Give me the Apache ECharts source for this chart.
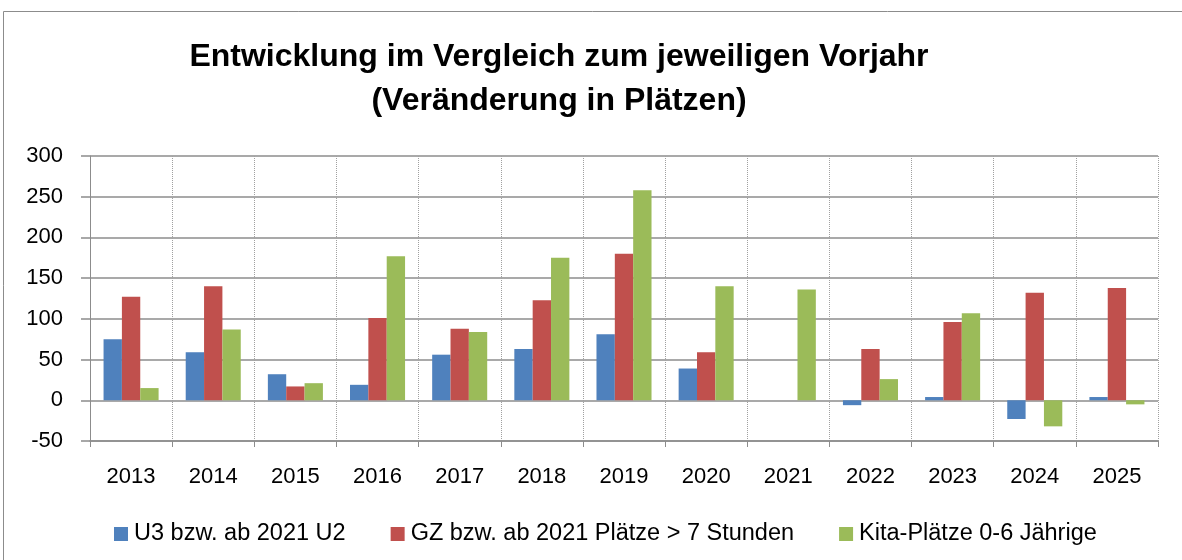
<!DOCTYPE html>
<html>
<head>
<meta charset="utf-8">
<script src="https://cdn.jsdelivr.net/npm/echarts@6/dist/echarts.min.js"></script>
<style>html,body{margin:0;padding:0;background:#fff}#c{width:1182px;height:560px}</style>
</head>
<body>
<div id="c"></div>
<script>
const categories = ['2013','2014','2015','2016','2017','2018','2019','2020','2021','2022','2023','2024','2025'];
const seriesNames = ['U3 bzw. ab 2021 U2','GZ bzw. ab 2021 Plätze > 7 Stunden','Kita-Plätze 0-6 Jährige'];
const u3 = [75, 59, 32, 19, 56, 63, 81, 39, 0, -6, 4, -23, 4];
const gz = [127, 140, 17, 101, 88, 123, 180, 59, 0, 63, 96, 132, 138];
const kita = [15, 87, 21, 177, 84, 175, 258, 140, 136, 26, 107, -32, -5];
const colors = ['#4F81BD', '#C0504D', '#9BBB59'];
const FONT = 'Liberation Sans';

const chart = echarts.init(document.getElementById('c'));
const mk = (name, data, color) => ({
  name, type: 'bar', data, xAxisIndex: 0,
  barGap: '0%', barCategoryGap: '33%',
  itemStyle: { color }
});
chart.setOption({
  animation: false,
  textStyle: { fontFamily: FONT },
  graphic: [{
    type: 'polyline', shape: { points: [[3.5, 560], [3.5, 11.5], [1182, 11.5]] },
    style: { stroke: '#8c8c8c', lineWidth: 1, fill: null }
  }],
  title: {
    text: 'Entwicklung im Vergleich zum jeweiligen Vorjahr\n(Veränderung in Plätzen)',
    left: 554, top: 30, textAlign: 'center',
    textStyle: { fontFamily: FONT, fontSize: 32, fontWeight: 'bold', color: '#000', lineHeight: 44 }
  },
  legend: {
    top: 517, left: 109, icon: 'rect', itemWidth: 14, itemHeight: 14, itemGap: 45,
    textStyle: { fontFamily: FONT, fontSize: 23.5, color: '#000', padding: [0, 0, 0, 1] },
    data: seriesNames
  },
  grid: { left: 90, right: 24, top: 156, bottom: 119, containLabel: false },
  xAxis: [{
    type: 'category', data: categories, position: 'bottom',
    axisLine: { show: false }, axisTick: { show: false },
    axisLabel: { fontSize: 22, color: '#000', margin: 25, fontFamily: FONT },
    splitLine: { show: true, lineStyle: { type: 'dotted', color: '#a0a0a0', width: 1 } }
  }, {
    type: 'category', data: categories, position: 'bottom',
    axisLine: { show: true, onZero: true, lineStyle: { color: '#8c8c8c', width: 1.5 } },
    axisTick: { show: true, length: 6, lineStyle: { color: '#8c8c8c' } },
    axisLabel: { show: false }, splitLine: { show: false }
  }],
  yAxis: {
    type: 'value', min: -50, max: 300, interval: 50,
    axisLine: { show: true, lineStyle: { color: '#8c8c8c' } },
    axisTick: { show: true, length: 9, lineStyle: { color: '#8c8c8c', width: 1.5 } },
    axisLabel: { fontSize: 22, color: '#000', margin: 27, fontFamily: FONT },
    splitLine: { show: true, lineStyle: { color: '#8c8c8c', width: 1.5 } }
  },
  series: [mk(seriesNames[0], u3, colors[0]), mk(seriesNames[1], gz, colors[1]), mk(seriesNames[2], kita, colors[2])]
});
</script>
</body>
</html>
